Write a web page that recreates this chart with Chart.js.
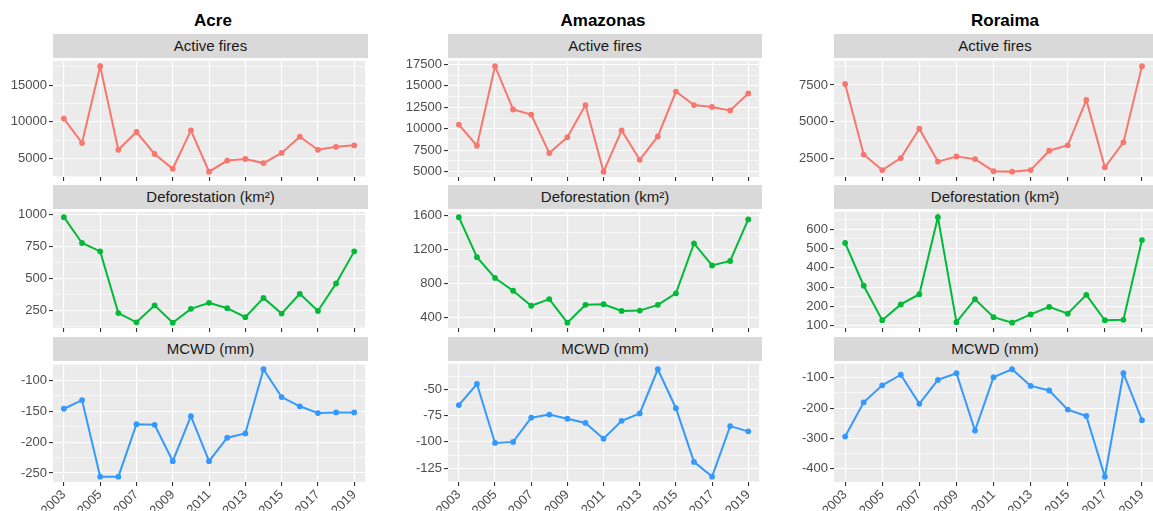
<!DOCTYPE html>
<html>
<head>
<meta charset="utf-8">
<script src="https://cdn.jsdelivr.net/npm/chart.js@4"></script>
<style>
  html, body { margin: 0; padding: 0; background: #fff; width: 1153px; height: 511px; overflow: hidden; }
  body { position: relative; font-family: "Liberation Sans", Arial, sans-serif; }
  canvas { position: absolute; }
  .title { position: absolute; top: 11px; font-weight: bold; font-size: 17px; line-height: 20px; color: #000; transform: translateX(-50%); white-space: nowrap; }
  .strip { position: absolute; height: 24px; line-height: 24px; background: #d9d9d9; color: #1a1a1a; font-size: 15px; text-align: center; }
</style>
</head>
<body>
<script>
const years = [2003, 2004, 2005, 2006, 2007, 2008, 2009, 2010, 2011, 2012, 2013, 2014, 2015, 2016, 2017, 2018, 2019];
const yearTicks = [2003, 2005, 2007, 2009, 2011, 2013, 2015, 2017, 2019];

const states = ["Acre", "Amazonas", "Roraima"];
const variables = ["Active fires", "Deforestation (km²)", "MCWD (mm)"];

// Active fires
const acreFires = [10430, 7090, 17600, 6170, 8600, 5600, 3570, 8830, 3170, 4700, 4910, 4350, 5740, 7960, 6170, 6570, 6780];
const amazFires = [10480, 8020, 17280, 12240, 11650, 7170, 9020, 12760, 5000, 9810, 6390, 9100, 14330, 12760, 12540, 12130, 14100];
const roraFires = [7570, 2760, 1700, 2520, 4520, 2280, 2630, 2450, 1630, 1590, 1700, 3020, 3390, 6480, 1890, 3590, 8780];

// Deforestation
const acreDefor = [978, 777, 712, 232, 160, 292, 157, 265, 312, 270, 200, 350, 228, 382, 248, 462, 712];
const amazDefor = [1585, 1113, 868, 717, 540, 619, 340, 551, 558, 479, 483, 551, 687, 1275, 1015, 1068, 1558];
const roraDefor = [529, 307, 128, 210, 263, 663, 118, 237, 144, 115, 158, 197, 162, 260, 128, 130, 544];

// MCWD
const acreMcwd = [-146, -132, -256, -256, -171, -172, -231, -158, -231, -193, -186, -82, -127, -142, -153, -152, -152];
const amazMcwd = [-65, -45, -101, -100, -77, -74, -78, -82, -97, -80, -73, -31, -68, -119, -133, -85, -90];
const roraMcwd = [-294, -181, -125, -90, -186, -107, -85, -274, -98, -72, -127, -142, -205, -226, -426, -85, -240];

// y tick labels
const acreFiresTicks = [5000, 10000, 15000];
const amazFiresTicks = [5000, 7500, 10000, 12500, 15000, 17500];
const roraFiresTicks = [2500, 5000, 7500];
const acreDeforTicks = [250, 500, 750, 1000];
const amazDeforTicks = [400, 800, 1200, 1600];
const roraDeforTicks = [100, 200, 300, 400, 500, 600];
const acreMcwdTicks = [-250, -200, -150, -100];
const amazMcwdTicks = [-125, -100, -75, -50];
const roraMcwdTicks = [-400, -300, -200, -100];

const lineColors = ["#F8766D", "#00BA38", "#3399FF"];

const panels = [
  [acreFires, acreFiresTicks], [amazFires, amazFiresTicks], [roraFires, roraFiresTicks],
  [acreDefor, acreDeforTicks], [amazDefor, amazDeforTicks], [roraDefor, roraDeforTicks],
  [acreMcwd, acreMcwdTicks], [amazMcwd, amazMcwdTicks], [roraMcwd, roraMcwdTicks],
];

// layout of the facet grid
const cols = [{ left: 53, right: 368 }, { left: 448, right: 762 }, { left: 834, right: 1156 }];
const rows = [{ top: 58, bottom: 177 }, { top: 209, bottom: 328 }, { top: 361, bottom: 482 }];
const titleX = [213, 603, 1005];
const AXW = 52;

const panelBg = {
  id: "panelBg",
  beforeDraw(chart) {
    const a = chart.chartArea;
    const c = chart.ctx;
    c.save();
    c.fillStyle = "#ebebeb";
    c.fillRect(a.left, a.top, a.right - a.left, a.bottom - a.top);
    c.restore();
  },
};

const tickFont = { family: "'Liberation Sans', Arial, sans-serif", size: 13 };

const zeroPad = (scale) => {
  scale.paddingLeft = 0;
  scale.paddingRight = 0;
  scale.paddingTop = 0;
  scale.paddingBottom = 0;
};

const makePanel = (ci, ri, values, majors, color) => {
  const col = cols[ci];
  const row = rows[ri];
  const bottomRow = ri === rows.length - 1;
  const xH = bottomRow ? 30 : 4;

  const canvas = document.createElement("canvas");
  canvas.width = col.right - col.left + AXW;
  canvas.height = row.bottom - row.top + xH;
  canvas.style.left = (col.left - AXW) + "px";
  canvas.style.top = row.top + "px";
  document.body.appendChild(canvas);

  // ggplot style 5% expansion
  const lo = Math.min(...values);
  const hi = Math.max(...values);
  const pad = (hi - lo) * 0.05;
  const yMin = lo - pad;
  const yMax = hi + pad;

  // minor breaks halfway between majors
  const step = majors[1] - majors[0];
  const allTicks = [];
  for (let v = majors[0] - step / 2; v <= majors[majors.length - 1] + step / 2 + 1e-9; v += step / 2) {
    if (v >= yMin && v <= yMax) allTicks.push(v);
  }
  const isMajor = (v) => majors.includes(v);

  new Chart(canvas, {
    type: "line",
    data: {
      datasets: [
        {
          data: years.map((y, i) => ({ x: y, y: values[i] })),
          borderColor: color,
          backgroundColor: color,
          borderWidth: 2,
          pointRadius: 2.9,
          pointBorderWidth: 0,
          pointHoverRadius: 0,
          tension: 0,
        },
      ],
    },
    options: {
      responsive: false,
      animation: false,
      layout: { padding: 0 },
      plugins: { legend: { display: false }, tooltip: { enabled: false } },
      scales: {
        x: {
          type: "linear",
          min: 2002.4,
          max: 2019.6,
          afterBuildTicks: (s) => { s.ticks = yearTicks.map((v) => ({ value: v })); },
          afterFit: (s) => { s.height = xH; zeroPad(s); },
          border: { display: false },
          grid: { color: "#ffffff", lineWidth: 1.1, tickLength: 4, tickColor: "#333333" },
          ticks: {
            display: bottomRow,
            autoSkip: false,
            maxRotation: 45,
            minRotation: 45,
            padding: 1,
            color: "#4d4d4d",
            font: tickFont,
            callback: (v) => String(v),
          },
        },
        y: {
          min: yMin,
          max: yMax,
          afterBuildTicks: (s) => { s.ticks = allTicks.map((v) => ({ value: v })); },
          afterFit: (s) => { s.width = AXW; zeroPad(s); },
          border: { display: false },
          grid: {
            color: "#ffffff",
            lineWidth: (ctx) => (ctx.tick && isMajor(ctx.tick.value) ? 1.1 : 0.55),
            tickLength: 4,
            tickColor: (ctx) => (ctx.tick && isMajor(ctx.tick.value) ? "#333333" : "rgba(0,0,0,0)"),
          },
          ticks: {
            autoSkip: false,
            padding: 2,
            color: "#4d4d4d",
            font: tickFont,
            callback: (v) => (isMajor(v) ? String(v) : ""),
          },
        },
      },
    },
    plugins: [panelBg],
  });
};

states.forEach((name, ci) => {
  const t = document.createElement("div");
  t.className = "title";
  t.textContent = name;
  t.style.left = titleX[ci] + "px";
  document.body.appendChild(t);

  variables.forEach((v, ri) => {
    const s = document.createElement("div");
    s.className = "strip";
    s.textContent = v;
    s.style.left = cols[ci].left + "px";
    s.style.width = (cols[ci].right - cols[ci].left) + "px";
    s.style.top = (rows[ri].top - 24) + "px";
    document.body.appendChild(s);

    const [values, majors] = panels[ri * 3 + ci];
    makePanel(ci, ri, values, majors, lineColors[ri]);
  });
});
</script>
</body>
</html>
